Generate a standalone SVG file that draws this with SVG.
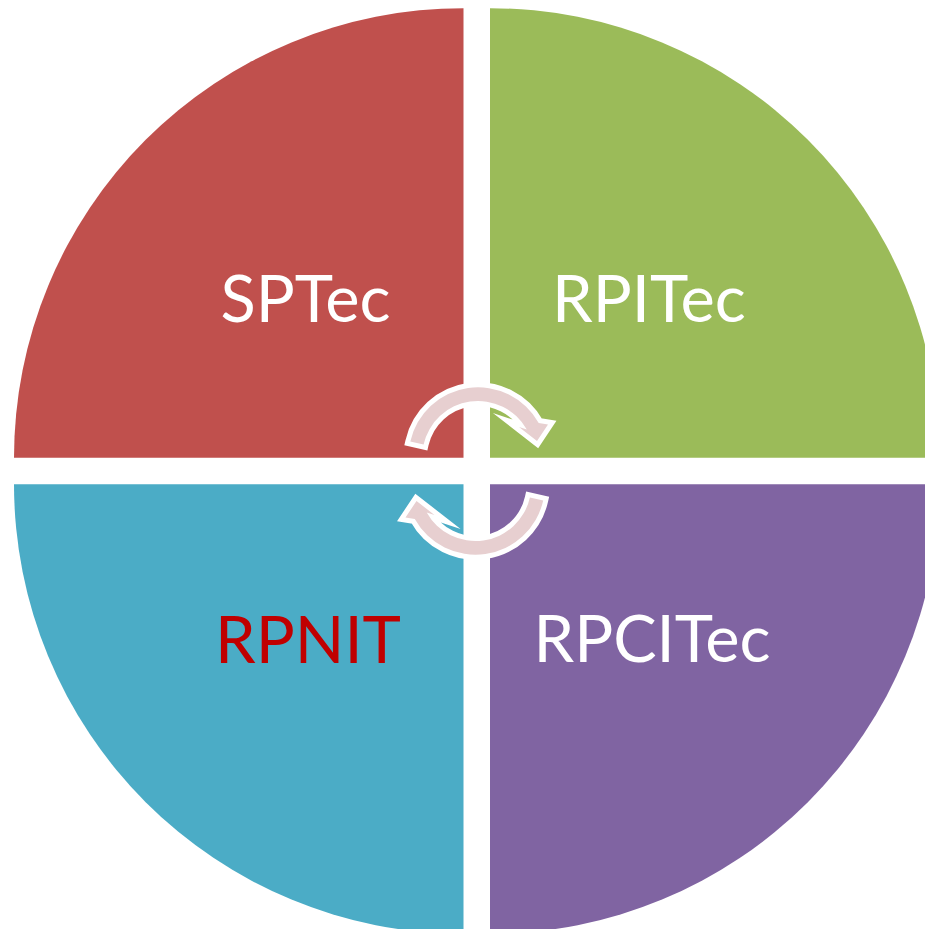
<svg xmlns="http://www.w3.org/2000/svg" width="925" height="929" viewBox="0 0 925 929">
<style>
.lbl{font-family:"Lato","Liberation Sans",sans-serif;font-size:65px;text-anchor:middle;fill:#FFFFFF}
.arrow{fill:#E7CFD0;stroke:#FFFFFF;stroke-width:10;paint-order:stroke;stroke-linejoin:miter;stroke-miterlimit:6}
</style>
<rect width="925" height="929" fill="#FFFFFF"/>
<g id="sptec">
<path d="M463.5,457.7 H14 A449.5,449.5 0 0 1 463.5,8.2 Z" fill="#C0504D"/>
<text class="lbl" x="305.5" y="321.7">SPTec</text>
</g>
<g id="rpitec">
<path d="M490,457.7 V8.2 A449.5,449.5 0 0 1 939.5,457.7 Z" fill="#9BBB59"/>
<text class="lbl" x="649" y="321.7">RPITec</text>
</g>
<g id="rpnit">
<path d="M463.5,484.3 H14 A449.5,449.5 0 0 0 463.5,933.8 Z" fill="#4BACC6"/>
<text class="lbl" x="308" y="663" style="fill:#C00000">RPNIT</text>
</g>
<g id="rpcitec">
<path d="M490,484.3 H939.5 A449.5,449.5 0 0 1 490,933.8 Z" fill="#8064A2"/>
<text class="lbl" x="652" y="661.7">RPCITec</text>
</g>
<g id="connectors">
<path id="arrow-top" class="arrow" d="M410.3,441.5 A69.4,69.4 0 0 1 538.7,423 L548,424.5 L537,441 L519,427 L526.8,429.6 A55.8,55.8 0 0 0 423.6,444.5 Z"/>
<path id="arrow-bottom" class="arrow" transform="rotate(180 476.75 471)" d="M410.3,441.5 A69.4,69.4 0 0 1 538.7,423 L548,424.5 L537,441 L519,427 L526.8,429.6 A55.8,55.8 0 0 0 423.6,444.5 Z"/>
</g>
</svg>
